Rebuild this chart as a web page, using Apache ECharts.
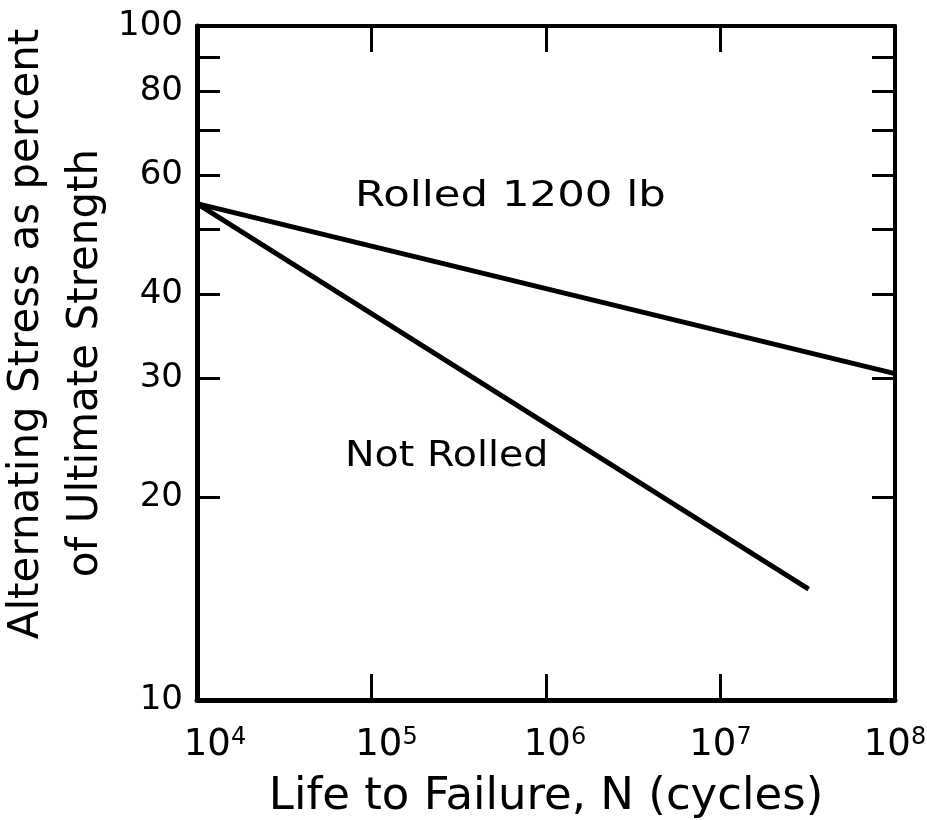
<!DOCTYPE html>
<html><head><meta charset="utf-8">
<script src="https://cdn.jsdelivr.net/npm/echarts@6/dist/echarts.min.js"></script>
<style>html,body{margin:0;padding:0;background:#fff}#c{width:927px;height:820px}</style>
</head><body><div id="c"></div>
<script>
const rolledN = [1e4, 1e8];
const rolledS = [54.5, 30.5];
const notRolledN = [1e4, 3.2e7];
const notRolledS = [54.5, 14.6];
const yTickValues = [10, 20, 30, 40, 50, 60, 70, 80, 90, 100];
const yLabelValues = [10, 20, 30, 40, 60, 80, 100];
const FONT = 'DejaVu Sans';
const chart = echarts.init(document.getElementById('c'));
const tick = {inside: true, length: 23, lineStyle: {width: 3, color: '#000'}};
const baseStyle = {fontFamily: FONT, fontSize: 37, color: '#000', lineHeight: 38};
const xRich = {s: {fontFamily: FONT, fontSize: 24, color: '#000', verticalAlign: 'top', lineHeight: 24}};
const xPads = {4: [0, 0, 0, 36], 5: [0, 0, 0, 30], 6: [0, 0, 0, 18], 7: [0, 0, 0, 0], 8: [0, 0, 0, 0]};
Object.keys(xPads).forEach(k => { xRich['b' + k] = Object.assign({padding: xPads[k]}, baseStyle); });
chart.setOption({
  animation: false,
  grid: {left: 197, right: 32, top: 26, bottom: 120, containLabel: false, outerBoundsMode: 'none'},
  xAxis: [{
    type: 'log', min: 1e4, max: 1e8, logBase: 10,
    axisLine: {show: true, lineStyle: {color: '#000', width: 5}},
    axisTick: {inside: true, length: 26, lineStyle: {width: 3, color: '#000'}},
    splitLine: {show: false},
    axisLabel: {
      margin: 26, overflow: 'none', hideOverlap: false,
      formatter: v => { const e = Math.round(Math.log10(v)); return '{b' + e + '|10}{s|' + e + '}'; },
      rich: xRich
    },
    name: 'Life to Failure, N (cycles)', nameLocation: 'middle', nameGap: 75,
    nameTextStyle: {fontFamily: FONT, fontSize: 45, color: '#000'}
  }, {
    type: 'log', min: 1e4, max: 1e8, position: 'top',
    axisLine: {show: true, lineStyle: {color: '#000', width: 4}},
    axisTick: {inside: true, length: 26, lineStyle: {width: 3, color: '#000'}},
    axisLabel: {show: false}, splitLine: {show: false}
  }],
  yAxis: [{
    type: 'log', min: 10, max: 100, logBase: 10,
    axisLine: {show: true, lineStyle: {color: '#000', width: 5}},
    axisTick: Object.assign({customValues: yTickValues}, tick),
    axisLabel: {customValues: yLabelValues, margin: 14, fontFamily: FONT, fontSize: 34, color: '#000'},
    splitLine: {show: false},
    name: '{a|Alternating Stress as percent}\n{b|of Ultimate Strength}',
    nameLocation: 'middle', nameGap: 72,
    nameTextStyle: {
      fontFamily: FONT, fontSize: 42, color: '#000',
      rich: {
        a: {fontFamily: FONT, fontSize: 42, color: '#000', lineHeight: 59, padding: [0, 0, 0, 58]},
        b: {fontFamily: FONT, fontSize: 42, color: '#000', lineHeight: 59}
      }
    }
  }, {
    type: 'log', min: 10, max: 100, position: 'right',
    axisLine: {show: true, lineStyle: {color: '#000', width: 4}},
    axisTick: Object.assign({customValues: yTickValues}, tick),
    axisLabel: {show: false}, splitLine: {show: false}
  }],
  series: [{
    type: 'line', name: 'Rolled 1200 lb', xAxisIndex: 0, yAxisIndex: 0,
    data: rolledN.map((n, i) => [n, rolledS[i]]), showSymbol: false,
    lineStyle: {color: '#000', width: 5}
  }, {
    type: 'line', name: 'Not Rolled', xAxisIndex: 0, yAxisIndex: 0,
    data: notRolledN.map((n, i) => [n, notRolledS[i]]), showSymbol: false,
    lineStyle: {color: '#000', width: 5}
  }],
  graphic: [
    {type: 'text', x: 355, y: 197, scaleX: 1.24,
     style: {text: 'Rolled 1200 lb', fontFamily: FONT, fontSize: 35, fill: '#000', align: 'left', verticalAlign: 'middle'}},
    {type: 'text', x: 345, y: 457, scaleX: 1.1,
     style: {text: 'Not Rolled', fontFamily: FONT, fontSize: 36, fill: '#000', align: 'left', verticalAlign: 'middle'}}
  ]
});
</script></body></html>
